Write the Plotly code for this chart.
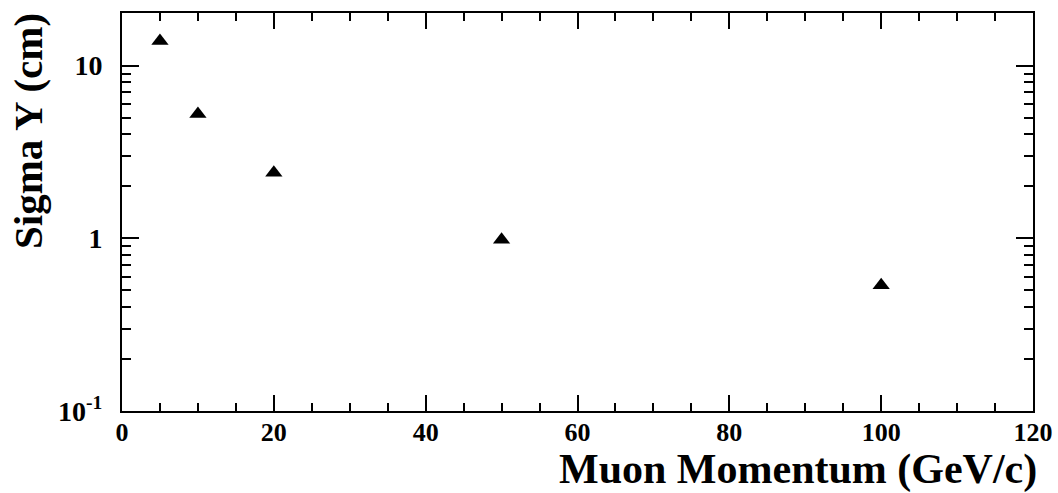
import plotly.graph_objects as go

# Spatial resolution (sigma Y) versus muon momentum
momentum = [5, 10, 20, 50, 100]
sigma_y = [13.9, 5.25, 2.40, 0.98, 0.535]

# Axis tick definitions
x_major = [0, 20, 40, 60, 80, 100, 120]
y_major = [0.1, 1, 10]
y_major_text = ["10<sup>-1</sup>", "1", "10"]
y_minor = [0.2, 0.3, 0.4, 0.5, 0.6, 0.7, 0.8, 0.9,
           2, 3, 4, 5, 6, 7, 8, 9, 20]

FONT = "Liberation Serif, Times New Roman, Times, serif"

fig = go.Figure()
fig.add_trace(go.Scatter(
    x=momentum, y=sigma_y, mode="markers",
    marker=dict(symbol="triangle-up", size=15, color="black",
                line=dict(width=0)),
    showlegend=False,
))

fig.update_layout(
    width=1058, height=493,
    margin=dict(l=122, r=25, t=13, b=82, autoexpand=False),
    paper_bgcolor="white", plot_bgcolor="white",
    font=dict(family=FONT, color="black"),
    xaxis=dict(
        range=[0, 120], tickmode="array", tickvals=x_major,
        ticks="inside", ticklen=16, tickwidth=1.5, tickcolor="black",
        minor=dict(dtick=5, ticks="inside", ticklen=8, tickwidth=1.5,
                   tickcolor="black", showgrid=False),
        showline=True, linewidth=2, linecolor="black", mirror="ticks",
        showgrid=False, zeroline=False, automargin=False,
        tickfont=dict(family=FONT, size=26, color="black", weight="bold"),
        ticklabelstandoff=-3,
    ),
    yaxis=dict(
        type="log", range=[-1, 1.305],
        tickmode="array", tickvals=y_major, ticktext=y_major_text,
        ticks="inside", ticklen=17, tickwidth=1.5, tickcolor="black",
        minor=dict(tickmode="array", tickvals=y_minor, ticks="inside",
                   ticklen=9, tickwidth=1.5, tickcolor="black",
                   showgrid=False),
        showline=True, linewidth=2, linecolor="black", mirror="ticks",
        showgrid=False, zeroline=False, automargin=False,
        tickfont=dict(family=FONT, size=28, color="black", weight="bold"),
        ticklabelstandoff=12,
    ),
    annotations=[
        dict(text="Muon Momentum (GeV/c)", xref="paper", yref="paper",
             x=1.0, y=0, xanchor="right", yanchor="top", yshift=-33,
             xshift=6, showarrow=False,
             font=dict(family=FONT, size=42, color="black", weight="bold")),
        dict(text="Sigma Y (cm)", xref="paper", yref="paper",
             x=0, y=1, xanchor="center", yanchor="top", textangle=-90,
             xshift=-94, yshift=2, showarrow=False,
             font=dict(family=FONT, size=41, color="black", weight="bold")),
    ],
)

fig.write_html("out.html")
